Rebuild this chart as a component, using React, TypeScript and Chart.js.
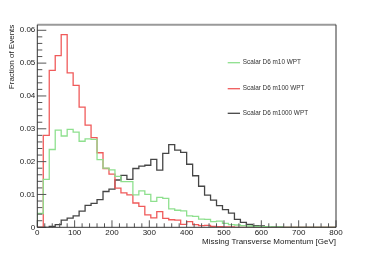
import { useEffect, useRef } from "react";
import { Chart, registerables } from "chart.js";

Chart.register(...registerables);

// Bin low edges (GeV), 16 GeV bins from 0 to 800
const binEdges = [
  0, 16, 32, 48, 64, 80, 96, 112, 128, 144, 160, 176, 192, 208, 224, 240, 256,
  272, 288, 304, 320, 336, 352, 368, 384, 400, 416, 432, 448, 464, 480, 496,
  512, 528, 544, 560, 576, 592, 608, 624, 640, 656, 672, 688, 704, 720, 736,
  752, 768, 784, 800,
];

const seriesLabels = [
  "Scalar D6 m10 WPT",
  "Scalar D6 m100 WPT",
  "Scalar D6 m1000 WPT",
];
const seriesColors = ["#8ee08e", "#f05a5a", "#454545"];

const m10 = [
  0.0042, 0.0146, 0.0237, 0.0296, 0.0278, 0.0298, 0.029, 0.0262, 0.0269,
  0.0268, 0.0206, 0.018, 0.0175, 0.0155, 0.0139, 0.0139, 0.0099, 0.0111, 0.01,
  0.0079, 0.0091, 0.0088, 0.0056, 0.0052, 0.005, 0.0035, 0.0033, 0.0025,
  0.0024, 0.0017, 0.0019, 0.0012, 0.0008, 0.0007, 0.0005, 0.0004, 0.0003,
  0.0002, 0.0002, 0.0001, 0.0001, 0, 0, 0, 0, 0, 0, 0, 0, 0,
];
const m100 = [
  0, 0.028, 0.0478, 0.0523, 0.0587, 0.047, 0.0432, 0.0366, 0.0311, 0.0273,
  0.0227, 0.0179, 0.0162, 0.0119, 0.0105, 0.0099, 0.0074, 0.0064, 0.0038,
  0.0029, 0.0048, 0.0027, 0.0023, 0.0022, 0.0009, 0.0017, 0.0008, 0.0005,
  0.0006, 0.0003, 0.0002, 0.0001, 0.0001, 0, 0, 0, 0, 0, 0, 0, 0, 0, 0, 0, 0,
  0, 0, 0, 0, 0,
];
const m1000 = [
  0, 0, 0.0003, 0.0008, 0.0022, 0.0028, 0.0035, 0.0049, 0.0067, 0.0073,
  0.0084, 0.0109, 0.0116, 0.0144, 0.0158, 0.0146, 0.0179, 0.0186, 0.0189,
  0.0207, 0.0174, 0.0225, 0.0252, 0.0235, 0.0228, 0.0192, 0.0157, 0.0125,
  0.0098, 0.0083, 0.0066, 0.0054, 0.0043, 0.0024, 0.0015, 0.0009, 0.0005,
  0.0004, 0.0002, 0.0001, 0.0001, 0, 0, 0, 0, 0, 0, 0, 0, 0,
];

const xTickValues = [0, 100, 200, 300, 400, 500, 600, 700, 800];
const yTickValues = [0, 0.01, 0.02, 0.03, 0.04, 0.05, 0.06];
const yTickLabels = ["0", "0.01", "0.02", "0.03", "0.04", "0.05", "0.06"];

const X_MIN = 0;
const X_MAX = 800;
const Y_MAX = 0.0617;
const FONT = "'Liberation Sans', Arial, Helvetica, sans-serif";

function toSteps(values: number[]) {
  const pts = [{ x: binEdges[0], y: 0 }];
  values.forEach((v, i) => pts.push({ x: binEdges[i], y: v }));
  pts.push({ x: binEdges[values.length], y: values[values.length - 1] });
  pts.push({ x: binEdges[values.length], y: 0 });
  return pts;
}

const framePlugin = {
  id: "rootFrame",
  afterDatasetsDraw(chart: any) {
    const { ctx, chartArea } = chart;
    const { left, right, top, bottom } = chartArea;
    const xs = chart.scales.x;
    const ys = chart.scales.y;
    ctx.save();
    ctx.strokeStyle = "#555";
    ctx.lineWidth = 1;
    ctx.beginPath();
    for (let i = 0; i < yTickValues.length; i++) {
      const major = yTickValues[i];
      const py = ys.getPixelForValue(major);
      ctx.moveTo(left, py);
      ctx.lineTo(left + 9, py);
      if (i < yTickValues.length - 1) {
        const step = (yTickValues[i + 1] - major) / 5;
        for (let k = 1; k < 5; k++) {
          const my = ys.getPixelForValue(major + step * k);
          ctx.moveTo(left, my);
          ctx.lineTo(left + 5, my);
        }
      }
    }
    for (let i = 0; i < xTickValues.length; i++) {
      const major = xTickValues[i];
      const px = xs.getPixelForValue(major);
      ctx.moveTo(px, bottom);
      ctx.lineTo(px, bottom - 7);
      if (i < xTickValues.length - 1) {
        const step = (xTickValues[i + 1] - major) / 5;
        for (let k = 1; k < 5; k++) {
          const mx = xs.getPixelForValue(major + step * k);
          ctx.moveTo(mx, bottom);
          ctx.lineTo(mx, bottom - 4);
        }
      }
    }
    ctx.stroke();
    ctx.strokeStyle = "#9a9a9a";
    ctx.lineWidth = 2;
    ctx.beginPath();
    ctx.moveTo(left, top);
    ctx.lineTo(right, top);
    ctx.stroke();
    ctx.strokeStyle = "#333";
    ctx.lineWidth = 1;
    ctx.beginPath();
    ctx.moveTo(left, top);
    ctx.lineTo(left, bottom);
    ctx.lineTo(right, bottom);
    ctx.lineTo(right, top);
    ctx.stroke();
    ctx.restore();
  },
  afterDraw(chart: any) {
    const { ctx } = chart;
    ctx.save();
    ctx.font = `6.4px ${FONT}`;
    ctx.textBaseline = "middle";
    ctx.textAlign = "left";
    const rows = [62.7, 88.7, 113.3];
    chart.data.datasets.forEach((ds: any, i: number) => {
      const y = rows[i];
      ctx.strokeStyle = ds.borderColor;
      ctx.lineWidth = 1.3;
      ctx.beginPath();
      ctx.moveTo(227.7, y);
      ctx.lineTo(240, y);
      ctx.stroke();
      ctx.fillStyle = "#333";
      ctx.fillText(ds.label, 242.7, y);
    });
    ctx.restore();
  },
};

export default function App() {
  const canvasRef = useRef<HTMLCanvasElement | null>(null);

  useEffect(() => {
    const canvas = canvasRef.current;
    if (!canvas) return;
    const seriesValues = [m10, m100, m1000];
    const chart = new Chart(canvas, {
      type: "line",
      data: {
        datasets: seriesValues.map((vals, i) => ({
          label: seriesLabels[i],
          data: toSteps(vals),
          borderColor: seriesColors[i],
          borderWidth: 1.3,
          stepped: "before" as const,
          pointRadius: 0,
          fill: false,
          tension: 0,
        })),
      },
      options: {
        animation: false,
        responsive: false,
        maintainAspectRatio: false,
        layout: { padding: { left: 0, right: 38, top: 24.7, bottom: 0 } },
        plugins: {
          legend: { display: false },
          tooltip: { enabled: false },
        },
        scales: {
          x: {
            type: "linear",
            min: X_MIN,
            max: X_MAX,
            position: "bottom",
            afterFit: (s: any) => {
              s.height = 25.7;
            },
            afterBuildTicks: (s: any) => {
              s.ticks = xTickValues.map((v) => ({ value: v }));
            },
            grid: { display: false, drawTicks: false },
            border: { display: false },
            ticks: {
              font: { family: FONT, size: 8 },
              color: "#222",
              padding: 1,
              maxRotation: 0,
              autoSkip: false,
              callback: (v: any) => String(v),
            },
            title: {
              display: true,
              text: "Missing Transverse Momentum [GeV]",
              align: "end",
              color: "#222",
              font: { family: FONT, size: 8 },
              padding: { top: 0, bottom: 6.5 },
            },
          },
          y: {
            type: "linear",
            min: 0,
            max: Y_MAX,
            position: "left",
            afterFit: (s: any) => {
              s.width = 37.3;
            },
            afterBuildTicks: (s: any) => {
              s.ticks = yTickValues.map((v) => ({ value: v }));
            },
            grid: { display: false, drawTicks: false },
            border: { display: false },
            ticks: {
              font: { family: FONT, size: 8 },
              color: "#222",
              padding: 2,
              autoSkip: false,
              callback: (v: any) => {
                const idx = yTickValues.findIndex((t) => Math.abs(t - v) < 1e-9);
                return idx >= 0 ? yTickLabels[idx] : "";
              },
            },
            title: {
              display: true,
              text: "Fraction of Events",
              align: "end",
              color: "#222",
              font: { family: FONT, size: 8 },
              padding: { top: 6.5, bottom: 0 },
            },
          },
        },
      },
      plugins: [framePlugin],
    } as any);
    return () => chart.destroy();
  }, []);

  return (
    <div
      style={{
        position: "fixed",
        left: 0,
        top: 0,
        width: 374,
        height: 253,
        background: "#fff",
      }}
    >
      <canvas ref={canvasRef} width={374} height={253} style={{ display: "block" }} />
    </div>
  );
}
